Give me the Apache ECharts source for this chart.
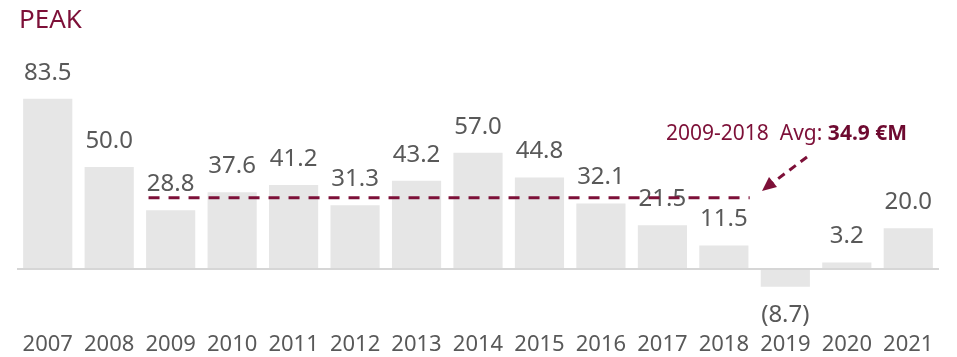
<!DOCTYPE html>
<html>
<head>
<meta charset="utf-8">
<script src="https://cdn.jsdelivr.net/npm/echarts@6/dist/echarts.min.js"></script>
<style>
  html, body { margin: 0; padding: 0; background: #ffffff; }
  #chart { width: 957px; height: 357px; }
</style>
</head>
<body>
<div id="chart"></div>
<script>
// Yearly values (€M); negative years are shown in parentheses
const years = ['2007', '2008', '2009', '2010', '2011', '2012', '2013', '2014',
               '2015', '2016', '2017', '2018', '2019', '2020', '2021'];
const values = [83.5, 50.0, 28.8, 37.6, 41.2, 31.3, 43.2, 57.0,
                44.8, 32.1, 21.5, 11.5, -8.7, 3.2, 20.0];

// Average reference period
const avgStart = '2009';
const avgEnd = '2018';
const avgValue = 34.9;

const MAROON = '#7d1038';
const LABEL_GREY = '#595959';
const FONT = '"Noto Sans", "DejaVu Sans", sans-serif';

const fmt = v => v < 0 ? '(' + Math.abs(v).toFixed(1) + ')' : v.toFixed(1);

const barData = values.map(v => ({
  value: v,
  label: { position: v < 0 ? 'bottom' : 'top', distance: v < 0 ? 16 : 14 }
}));

// Dashed average line spanning the bars of the average period
const i0 = years.indexOf(avgStart);
const i1 = years.indexOf(avgEnd);
const avgLine = [[i0 - 0.36, avgValue], [i1 + 0.42, avgValue]];

const chart = echarts.init(document.getElementById('chart'), null, { renderer: 'canvas' });

chart.setOption({
  animation: false,
  backgroundColor: '#ffffff',
  title: {
    text: 'PEAK',
    left: 14,
    top: 3,
    textStyle: { color: MAROON, fontFamily: FONT, fontSize: 26, fontWeight: 'normal' }
  },
  grid: { left: 17, right: 18, top: 85.4, bottom: 47.2 },
  xAxis: [
    {
      type: 'category',
      data: years,
      axisLine: { show: false },
      axisTick: { show: false },
      axisLabel: { color: LABEL_GREY, fontFamily: FONT, fontSize: 22, margin: 24, interval: 0 }
    },
    {
      type: 'value',
      min: -0.5,
      max: years.length - 0.5,
      show: false
    }
  ],
  yAxis: {
    type: 'value',
    min: -20,
    max: 90,
    show: false,
    splitLine: { show: false }
  },
  series: [
    {
      type: 'bar',
      xAxisIndex: 0,
      data: barData,
      barWidth: '80%',
      itemStyle: { color: '#e6e6e6' },
      label: {
        show: true,
        color: LABEL_GREY,
        fontFamily: FONT,
        fontSize: 24,
        formatter: p => fmt(p.value)
      },
      markLine: {
        silent: true,
        symbol: 'none',
        label: { show: false },
        lineStyle: { color: '#d6d6d6', width: 2, type: 'solid' },
        data: [{ yAxis: 0 }]
      },
      z: 2
    },
    {
      type: 'line',
      xAxisIndex: 1,
      data: avgLine,
      symbol: 'none',
      lineStyle: { color: MAROON, width: 3, type: [11, 9] },
      silent: true,
      z: 3
    }
  ],
  graphic: [
    {
      type: 'text',
      left: 666,
      top: 124,
      style: {
        text: '{r|2009-2018  Avg: }{b|34.9 €M}',
        rich: {
          r: { fill: MAROON, fontFamily: FONT, fontSize: 21, fontWeight: 'normal' },
          b: { fill: '#6e0a30', fontFamily: FONT, fontSize: 21, fontWeight: 'bold' }
        }
      }
    },
    {
      type: 'line',
      shape: { x1: 807, y1: 157, x2: 773, y2: 182.5 },
      style: { stroke: MAROON, lineWidth: 3, lineDash: [8, 6] }
    },
    {
      type: 'polygon',
      shape: { points: [[762, 191], [777, 187], [769, 177]] },
      style: { fill: MAROON }
    }
  ]
});
</script>
</body>
</html>
